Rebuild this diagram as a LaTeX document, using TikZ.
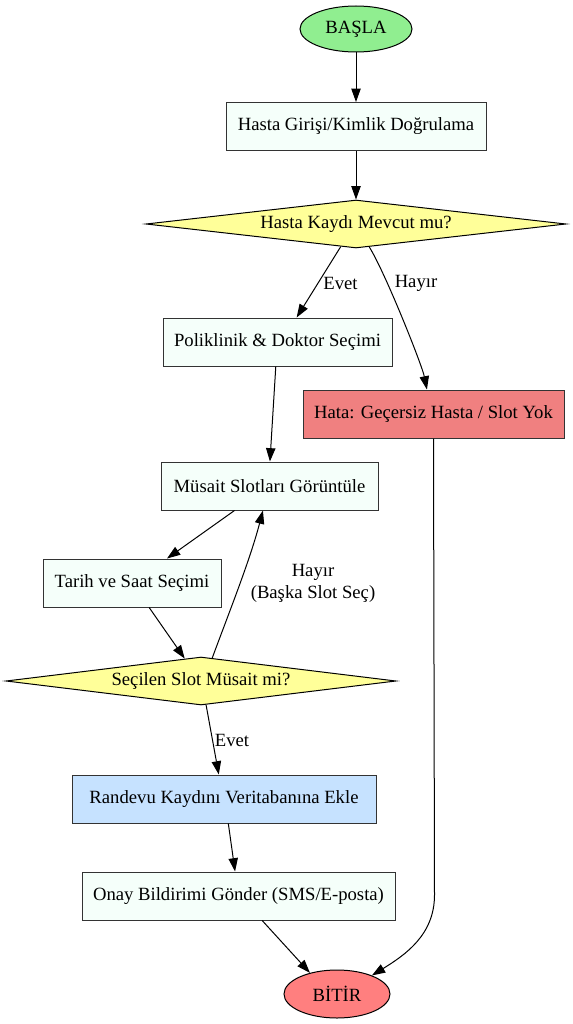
\documentclass[tikz,border=0pt]{standalone}
\usepackage{fontspec}
\setmainfont{Liberation Serif}
\usetikzlibrary{shapes.geometric,arrows.meta}
\definecolor{startgreen}{HTML}{90EE90}
\definecolor{endred}{HTML}{FF7F7F}
\definecolor{mint}{HTML}{F5FFFA}
\definecolor{decyellow}{HTML}{FFFF99}
\definecolor{errred}{HTML}{F08080}
\definecolor{dbblue}{HTML}{C6E2FF}
\definecolor{bordergray}{HTML}{333333}
\tikzset{
  base/.style={font=\fontsize{14pt}{16.5pt}\selectfont, inner sep=0pt, line width=0.75pt, draw=bordergray},
  term/.style={base, ellipse, draw=black},
  procbox/.style={base, rectangle, minimum height=36pt, fill=mint},
  decision/.style={base, diamond, draw=black, fill=decyellow, minimum height=36pt},
  arr/.style={-{Triangle[length=10pt,width=7pt]}, line width=0.75pt, black},
  elabel/.style={font=\fontsize{14pt}{16.5pt}\selectfont, inner sep=0pt, align=center}
}
\begin{document}
\begin{tikzpicture}[x=0.75pt,y=-0.75pt]
\useasboundingbox (0,0) rectangle (573,1024);
\fill[white] (0,0) rectangle (573,1024);

\node[term, fill=startgreen, minimum width=84pt, minimum height=34.5pt] (start) at (356,29) {BAŞLA};
\node[procbox, minimum width=195pt] (giris) at (356,126.5) {Hasta Girişi/Kimlik Doğrulama};
\node[decision, minimum width=315pt, shape aspect=8.75] (d1) at (356,224) {Hasta Kaydı Mevcut mu?};
\node[procbox, minimum width=171.75pt] (poli) at (277.5,342) {Poliklinik \& Doktor Seçimi};
\node[procbox, minimum width=195.75pt, fill=errred] (hata) at (433.5,414) {Hata: Geçersiz Hasta / Slot Yok};
\node[procbox, minimum width=162.75pt] (mus) at (269.5,486) {Müsait Slotları Görüntüle};
\node[procbox, minimum width=133.5pt] (tarih) at (132,583) {Tarih ve Saat Seçimi};
\node[decision, minimum width=292.5pt, shape aspect=8.125] (d2) at (201,681) {Seçilen Slot Müsait mi?};
\node[procbox, minimum width=228pt, fill=dbblue] (ran) at (224,799) {Randevu Kaydını Veritabanına Ekle};
\node[procbox, minimum width=234.75pt] (onay) at (238.5,896) {Onay Bildirimi Gönder (SMS/E-posta)};
\node[term, fill=endred, minimum width=79.5pt, minimum height=36pt] (bitir) at (337,994) {BİTİR};

\node[elabel] (levet1) at (340.5,283) {Evet};
\node[elabel] (lhayir1) at (416,283) {Hayır};
\node[elabel] (lhayir2) at (313,583) {Hayır\\(Başka Slot Seç)};
\node[elabel] (levet2) at (232,740) {Evet};

\draw[arr] (start.south) -- (giris.north);
\draw[arr] (giris.south) -- (d1.north);
\draw[arr] (d1.236) -- (poli.52);
\draw[arr] (d1.300) .. controls (385,272) and (422,365) .. (hata.105);
\draw[arr] (poli.266) -- (mus.89);
\draw[arr] (mus.215.6) -- (tarih.35);
\draw[arr] (tarih.305) -- (d2.126);
\draw[arr] (d2.64) .. controls (230,610) and (250,560) .. (mus.255);
\draw[arr] (d2.282) -- (ran.102);
\draw[arr] (ran.280) -- (onay.98);
\draw[arr] (onay.314) -- (bitir.142);
\draw[arr] (hata.south) -- (434.5,895) .. controls (434.5,935) and (405,955) .. (bitir.28);
\end{tikzpicture}
\end{document}
